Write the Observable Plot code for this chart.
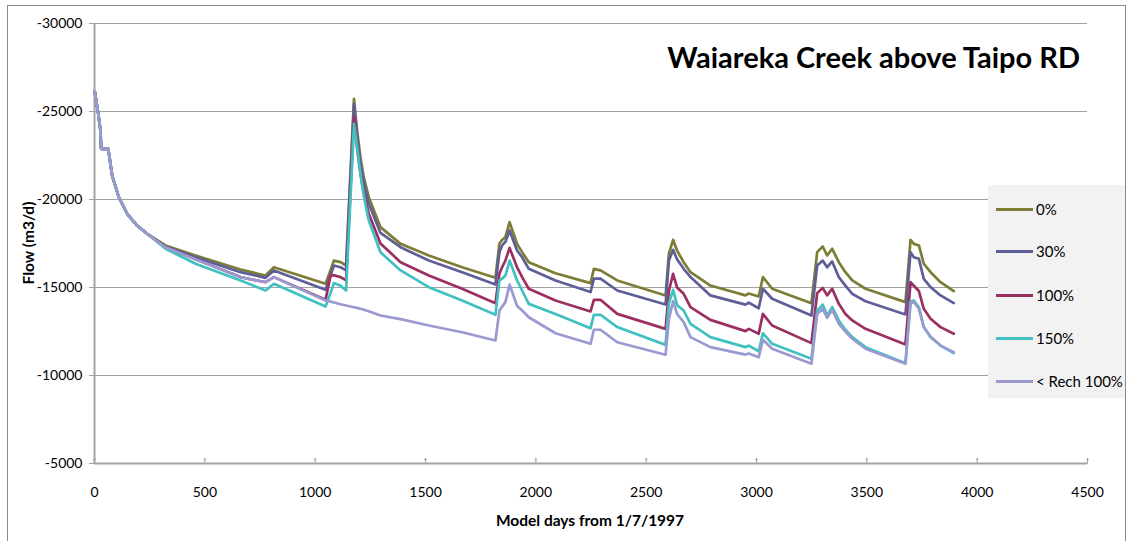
<!DOCTYPE html>
<html>
<head>
<meta charset="utf-8">
<script src="https://cdn.jsdelivr.net/npm/d3@7"></script>
<script src="https://cdn.jsdelivr.net/npm/@observablehq/plot@0.6"></script>
<style>
  html, body { margin: 0; padding: 0; background: #fff; }
  #wrap { position: relative; width: 1129px; height: 541px; overflow: hidden; font-family: Lato, "Open Sans", sans-serif; }
  #border { position: absolute; left: 7px; top: 5px; width: 1119px; height: 545px; border: 1px solid #8c8c8c; box-sizing: border-box; pointer-events: none; }
  #chart { position: absolute; left: 0; top: 0; }
  #title { position: absolute; right: 49px; top: 39px; font-size: 29px; font-weight: bold; white-space: nowrap; line-height: 36px; }
  #xlabel { position: absolute; left: 0; width: 1180px; top: 510px; text-align: center; font-size: 15.5px; font-weight: bold; line-height: 20px; }
  #ylabel { position: absolute; left: 28px; top: 243px; transform: translate(-50%, -50%) rotate(-90deg); font-size: 15.5px; font-weight: bold; white-space: nowrap; line-height: 20px; }
  #legend { position: absolute; left: 988px; top: 185px; width: 138px; height: 213px; background: #f2f2f2; }
  .item { position: absolute; left: 8px; height: 20px; display: flex; align-items: center; font-size: 15px; white-space: nowrap; }
  .sw { width: 37px; height: 3px; margin-right: 3px; }
</style>
</head>
<body>
<div id="wrap">
  <div id="chart"></div>
  <div id="title">Waiareka Creek above Taipo RD</div>
  <div id="ylabel">Flow (m3/d)</div>
  <div id="xlabel">Model days from 1/7/1997</div>
  <div id="legend"></div>
  <div id="border"></div>
</div>
<script>
// Axis ticks
const xTicks = [0, 500, 1000, 1500, 2000, 2500, 3000, 3500, 4000, 4500];
const yTicks = [-30000, -25000, -20000, -15000, -10000, -5000];

// Series names and colours
const seriesNames = ["0%", "30%", "100%", "150%", "< Rech 100%"];
const seriesColors = ["#7d7d35", "#5e5e99", "#9c2f62", "#40c0c0", "#9a9ad0"];

// Model days (breakpoints)
const days = [1, 17, 27, 30, 62, 68, 80, 110, 148, 193, 239,
  322, 458, 662, 775, 813, 1047, 1070, 1085, 1115, 1140,
  1176, 1190, 1205, 1220, 1243, 1296, 1387, 1515, 1666, 1817,
  1835, 1847, 1862, 1881, 1915, 1938, 1968, 2089, 2248, 2263,
  2293, 2369, 2588, 2603, 2622, 2640, 2670, 2701, 2791, 2950,
  2965, 3010, 3029, 3071, 3249, 3275, 3300, 3320, 3343, 3373,
  3403, 3434, 3494, 3675, 3698, 3713, 3736, 3758, 3789, 3834, 3894];

// Shared early recession (all scenarios identical)
const early = [-26150, -24870, -23920, -22880, -22880, -22400, -21360, -20130, -19190, -18520, -18050];

const flow0 = [...early,
  -17390, -16820, -16020, -15680, -16150, -15210, -16000, -16530, -16440, -16250,
  -25720, -23920, -22400, -21270, -20130, -18430, -17480, -16820, -16150, -15550,
  -17500, -17700, -17860, -18710, -17480, -17010, -16440, -15810, -15250, -16060,
  -15970, -15400, -14550, -16920, -17710, -17100, -16440, -15870, -15110, -14550,
  -14660, -14490, -15590, -14930, -14110, -17010, -17330, -16820, -17200, -16440,
  -15870, -15400, -14930, -14170, -17710, -17480, -17390, -16350, -15870, -15300, -14790];

const flow30 = [...early,
  -17330, -16720, -15870, -15550, -15970, -14870, -15700, -16250, -16150, -15970,
  -25440, -23600, -22100, -21000, -19760, -18100, -17290, -16530, -15870, -15170,
  -17000, -17390, -17590, -18240, -17100, -16720, -16060, -15400, -14740, -15500,
  -15500, -14830, -14030, -16530, -17140, -16600, -16060, -15590, -14550, -14030,
  -14140, -13820, -14930, -14360, -13410, -16250, -16530, -16150, -16480, -15590,
  -15110, -14640, -14220, -13470, -17010, -16720, -16630, -15490, -15020, -14550, -14110];

const flow100 = [...early,
  -17280, -16600, -15590, -15300, -15590, -14300, -15680, -15700, -15590, -15400,
  -24680, -22900, -21500, -20400, -19190, -17500, -16440, -15680, -14930, -14110,
  -15800, -16150, -16530, -17250, -16150, -15590, -14930, -14260, -13640, -14300,
  -14300, -13500, -12650, -14800, -15780, -15000, -14640, -13880, -13160, -12520,
  -12650, -12370, -13500, -12840, -11840, -14680, -14980, -14550, -14930, -14070,
  -13500, -13130, -12650, -11760, -15300, -15100, -14800, -13790, -13220, -12750, -12370];

const flow150 = [...early,
  -17200, -16350, -15400, -14830, -15210, -13920, -14700, -15250, -15100, -14830,
  -24300, -23000, -21460, -20230, -18810, -17000, -15970, -15020, -14260, -13450,
  -15400, -15500, -15680, -16530, -15400, -14830, -14070, -13500, -12690, -13450,
  -13450, -12750, -11740, -14100, -14870, -14000, -13690, -12940, -12180, -11610,
  -11700, -11380, -12400, -11800, -10950, -13690, -14030, -13410, -13880, -13130,
  -12600, -12180, -11610, -10700, -14200, -14260, -13880, -12750, -12180, -11700, -11270];

const flowRech = [...early,
  -17280, -16600, -15590, -15300, -15590, -14260, -14200, -14150, -14050, -13980,
  -13880, -13840, -13790, -13740, -13650, -13410, -13200, -12840, -12460, -11990,
  -13690, -13900, -14170, -15170, -13950, -13690, -13310, -12400, -11800, -12600,
  -12600, -11890, -11180, -13200, -14220, -13500, -13030, -12180, -11610, -11190,
  -11250, -11040, -12030, -11520, -10670, -13500, -13790, -13280, -13730, -12940,
  -12500, -12090, -11520, -10670, -14100, -14170, -13800, -12750, -12200, -11700, -11320];

const allFlows = [flow0, flow30, flow100, flow150, flowRech];

const tables = allFlows.map((vals, i) => days.map((d, j) => ({day: d, flow: vals[j], series: seriesNames[i]})));

const fmt = d => String(d);
const gridColor = "#a3a3a3";

const chart = Plot.plot({
  width: 1129,
  height: 541,
  marginLeft: 94,
  marginRight: 42,
  marginTop: 23,
  marginBottom: 78,
  style: {fontFamily: "Lato, 'Open Sans', sans-serif", fontSize: "14px", color: "#000", background: "transparent", overflow: "visible"},
  x: {domain: [0, 4500], label: null},
  y: {domain: [-5000, -30000], label: null},
  marks: [
    Plot.gridY(yTicks, {stroke: gridColor, strokeOpacity: 1, strokeWidth: 1}),
    Plot.axisY(yTicks, {tickSize: 5, tickPadding: 7, tickFormat: fmt, stroke: gridColor, fill: "#000", label: null, fontSize: 14}),
    Plot.axisX(xTicks, {tickSize: 0, tickPadding: 24, tickFormat: fmt, fill: "#000", label: null, fontSize: 14}),
    Plot.vector(xTicks, {x: d => d, y: () => -5000, length: 5, rotate: 0, anchor: "start", stroke: gridColor, strokeWidth: 1}),
    Plot.ruleX([0], {stroke: gridColor, strokeWidth: 2}),
    Plot.ruleY([-5000], {stroke: gridColor, strokeWidth: 2}),
    ...tables.map((t, i) => Plot.line(t, {x: "day", y: "flow", stroke: seriesColors[i], strokeWidth: 2.7, strokeLinejoin: "round"}))
  ]
});
document.getElementById("chart").appendChild(chart);

// Legend
const legend = document.getElementById("legend");
const rowTops = [14, 56, 100, 143, 186];
seriesNames.forEach((name, i) => {
  const it = document.createElement("div");
  it.className = "item";
  it.style.top = rowTops[i] + "px";
  const sw = document.createElement("div");
  sw.className = "sw";
  sw.style.background = seriesColors[i];
  const tx = document.createElement("span");
  tx.textContent = name;
  it.appendChild(sw);
  it.appendChild(tx);
  legend.appendChild(it);
});
</script>
</body>
</html>
